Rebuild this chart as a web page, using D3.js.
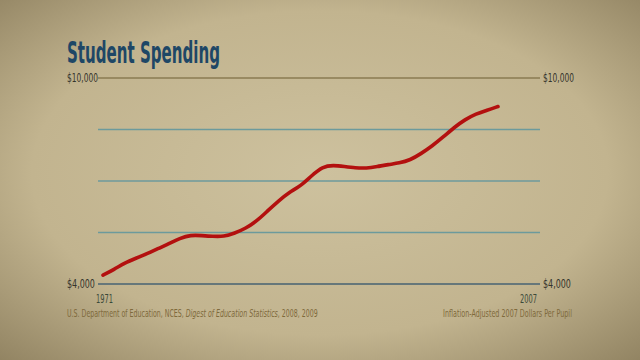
<!DOCTYPE html>
<html lang="en">
<head>
<meta charset="UTF-8">
<title>Student Spending</title>
<script src="https://d3js.org/d3.v7.min.js"></script>
<style>
  body { margin: 0; background: #c6b994; }
  .lbl { font-family: "Liberation Sans Narrow", "DejaVu Sans Condensed", sans-serif; }
</style>
</head>
<body>
<div id="chart"></div>
<script>
// data (inflation-adjusted 2007 dollars per pupil)
var years = d3.range(1971, 2008);
var spending = [4260, 4420, 4620, 4750, 4880, 5030, 5170, 5330, 5430, 5410,
                5390, 5380, 5480, 5620, 5830, 6130, 6420, 6680, 6850, 7150,
                7420, 7460, 7420, 7380, 7370, 7420, 7480, 7520, 7610, 7800,
                8020, 8280, 8560, 8790, 8960, 9060, 9170];
var gridValues = [5500, 7000, 8500];
var yTicks = [4000, 10000];
var xTicks = [1971, 2007];

var W = 640, H = 360;
var svg = d3.select("#chart").append("svg").attr("width", W).attr("height", H);

// paper background with a dark vignette
var defs = svg.append("defs");
var rg = defs.append("radialGradient").attr("id", "vig")
    .attr("cx", "50%").attr("cy", "48%").attr("r", "75%");
rg.append("stop").attr("offset", "0%").attr("stop-color", "#cdc19e");
rg.append("stop").attr("offset", "60%").attr("stop-color", "#c2b48f");
rg.append("stop").attr("offset", "100%").attr("stop-color", "#8d7f5e");
svg.append("rect").attr("width", W).attr("height", H).attr("fill", "url(#vig)");

var x = d3.scaleLinear().domain([1971, 2007]).range([103, 498]);
var y = d3.scaleLinear().domain([4000, 10000]).range([284, 78]);
var lineX0 = 98, lineX1 = 540;

// squeeze a text group horizontally so it fits a given width
function squeeze(g, x0, y0, width, anchorEnd) {
    var w = g.node().getBBox().width;
    var k = width / w;
    var left = anchorEnd ? x0 - width : x0;
    g.attr("transform", "translate(" + left + "," + y0 + ") scale(" + k + ",1)");
}

// title
var tg = svg.append("g");
tg.append("text").attr("class", "lbl")
    .style("font-size", "30px").style("font-weight", "bold")
    .attr("fill", "#1e4766").text("Student Spending");
squeeze(tg, 67, 63, 153);

// mid gridlines
svg.selectAll(".grid").data(gridValues).enter().append("line")
    .attr("x1", lineX0).attr("x2", lineX1)
    .attr("y1", function(d) { return y(d); }).attr("y2", function(d) { return y(d); })
    .attr("stroke", "#6c9a9c").attr("stroke-width", 1.6);

// top & bottom rules
svg.append("line").attr("x1", lineX0).attr("x2", lineX1)
    .attr("y1", y(10000)).attr("y2", y(10000))
    .attr("stroke", "#8a7b52").attr("stroke-width", 1.6);
svg.append("line").attr("x1", lineX0).attr("x2", lineX1)
    .attr("y1", y(4000)).attr("y2", y(4000))
    .attr("stroke", "#66777a").attr("stroke-width", 1.8);

// y labels on both sides
var fmt = d3.format("$,");
yTicks.forEach(function(v) {
    var w = v >= 10000 ? 31 : 28;
    [67, 543].forEach(function(px) {
        var g = svg.append("g");
        g.append("text").attr("class", "lbl")
            .style("font-size", "12px").attr("fill", "#35352c").text(fmt(v));
        squeeze(g, px, y(v) + 4, w);
    });
});

// x labels
xTicks.forEach(function(t) {
    var g = svg.append("g");
    g.append("text").attr("class", "lbl")
        .style("font-size", "13px").attr("fill", "#3b4a3a").text(t);
    squeeze(g, t === 1971 ? 96 : 520, 303, 17);
});

// the spending line
var line = d3.line()
    .x(function(d, i) { return x(years[i]); })
    .y(function(d) { return y(d); })
    .curve(d3.curveBasis);
svg.append("path").datum(spending)
    .attr("d", line)
    .attr("fill", "none")
    .attr("stroke", "#b3100f")
    .attr("stroke-width", 3.6)
    .attr("stroke-linecap", "round");

// source & note
var sg = svg.append("g");
var src = sg.append("text").attr("class", "lbl")
    .style("font-size", "11px").attr("fill", "#7f6a3c");
src.append("tspan").text("U.S. Department of Education, NCES, ");
src.append("tspan").style("font-style", "italic").text("Digest of Education Statistics");
src.append("tspan").text(", 2008, 2009");
squeeze(sg, 67, 317, 251);

var ng = svg.append("g");
ng.append("text").attr("class", "lbl")
    .style("font-size", "11px").attr("fill", "#7f6a3c")
    .text("Inflation-Adjusted 2007 Dollars Per Pupil");
squeeze(ng, 572, 317, 129, true);
</script>
</body>
</html>
